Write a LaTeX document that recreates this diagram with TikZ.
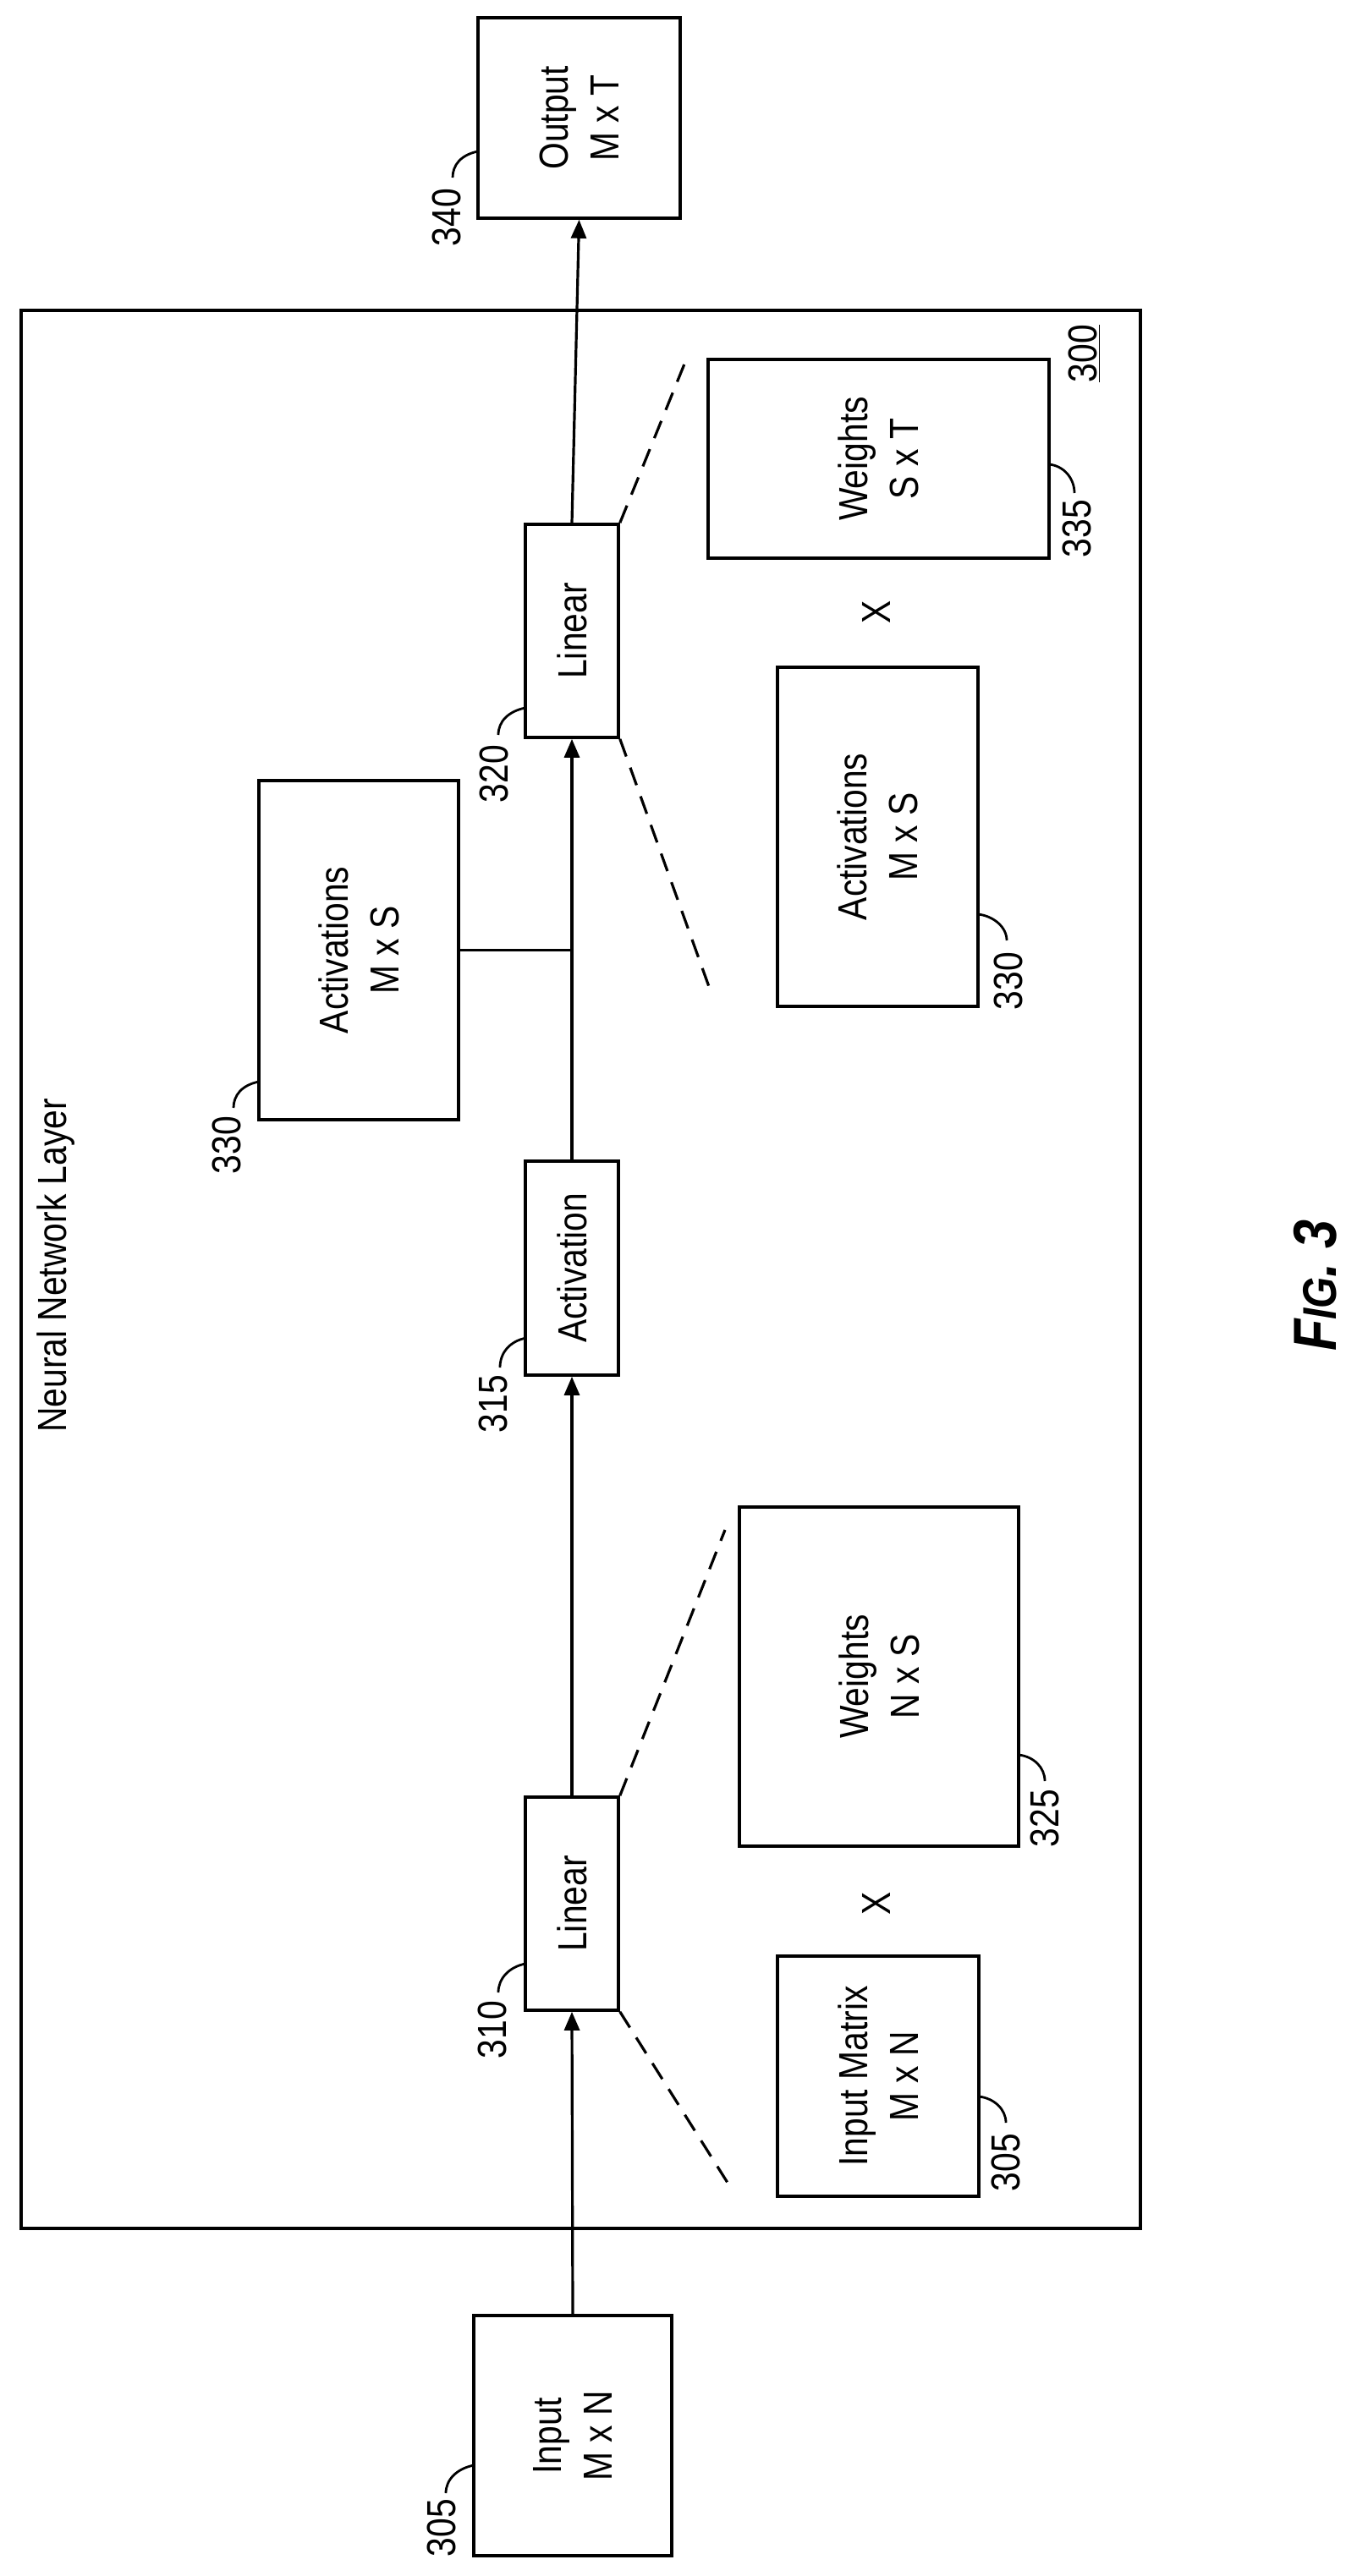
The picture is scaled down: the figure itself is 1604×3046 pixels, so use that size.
\documentclass[tikz,border=0pt]{standalone}
\usepackage{fontspec}
\setmainfont{Liberation Sans}[FakeStretch=0.85]
\usetikzlibrary{arrows.meta}
\begin{document}
\begin{tikzpicture}[x=0.5pt,y=-0.5pt,
  box/.style={draw,line width=1.8pt,inner sep=0pt},
  txt/.style={rotate=90,align=center,font=\fontsize{24}{30}\selectfont,inner sep=0pt},
  lead/.style={line width=1.4pt},
  conn/.style={line width=1.6pt},
  arr/.style={conn,-{Triangle[length=11pt,width=9pt]}},
  dsh/.style={line width=1.6pt,dash pattern=on 11pt off 7pt}]
\useasboundingbox (0,0) rectangle (1604,3046);
% outer layer box
\node[box,minimum width=661.5pt,minimum height=1134pt,anchor=north west] (layer) at (23,365) {};
\node[txt,anchor=west] (nnl) at (66,1694) {Neural Network Layer};
\node[txt] (n300) at (1282,418) {\underline{300}};
% boxes
\node[box,minimum width=119.5pt,minimum height=118.5pt] (out) at (684.5,139.5) {};
\node[txt] at (out) {Output\\M x T};
\node[box,minimum width=117pt,minimum height=142pt] (in) at (677,2880) {};
\node[txt] at (in) {Input\\M x N};
\node[box,minimum width=55pt,minimum height=126pt] (l310) at (676,2251) {};
\node[txt] at (l310) {Linear};
\node[box,minimum width=55pt,minimum height=126.5pt] (a315) at (676,1499.5) {};
\node[txt] at (a315) {Activation};
\node[box,minimum width=55pt,minimum height=126pt] (l320) at (676,746) {};
\node[txt] at (l320) {Linear};
\node[box,minimum width=118pt,minimum height=200.5pt] (actL) at (424,1123.5) {};
\node[txt] at (actL) {Activations\\M x S};
\node[box,minimum width=119pt,minimum height=142pt] (im) at (1038,2455) {};
\node[txt] at (im) {Input Matrix\\M x N};
\node[box,minimum width=165pt,minimum height=200.5pt] (w325) at (1039,1982.5) {};
\node[txt] at (w325) {Weights\\N x S};
\node[box,minimum width=118.5pt,minimum height=200.5pt] (actR) at (1037.5,989.5) {};
\node[txt] at (actR) {Activations\\M x S};
\node[box,minimum width=201.5pt,minimum height=117.5pt] (w335) at (1038.5,542.5) {};
\node[txt] at (w335) {Weights\\S x T};
\node[txt] (x1) at (1036,2251) {X};
\node[txt] (x2) at (1036,724) {X};
% main flow
\draw[arr] (in.north) -- (l310.south);
\draw[arr] (l310.north) -- (a315.south);
\draw[arr] (a315.north) -- (l320.south);
\draw[arr] (l320.north) -- (out.south);
\draw[conn] (actL.east) -- (actL.east -| l320.south);
% dashed expansions
\coordinate (d1) at (812,423);
\coordinate (d2) at (841,1175);
\coordinate (d3) at (857,1809);
\coordinate (d4) at (867,2592);
\draw[dsh] (l320.north east) -- (d1);
\draw[dsh] (l320.south east) -- (d2);
\draw[dsh] (l310.north east) -- (d3);
\draw[dsh] (l310.south east) -- (d4);
% reference labels (left side)
\node[txt] at (528,257) {340};
\draw[lead] (565,179) .. controls (545,183) and (535,195) .. (535,210);
\node[txt] at (584,915) {320};
\draw[lead] (621,837) .. controls (601,841) and (589,853) .. (589,869);
\node[txt] at (268,1354) {330};
\draw[lead] (306,1279) .. controls (286,1283) and (276,1295) .. (276,1310);
\node[txt] at (583,1660) {315};
\draw[lead] (622,1582) .. controls (602,1586) and (591,1600) .. (591,1617);
\node[txt] at (582,2400) {310};
\draw[lead] (621,2322) .. controls (601,2326) and (589,2340) .. (589,2356);
\node[txt] at (522,2989) {305};
\draw[lead] (560,2915) .. controls (540,2919) and (527,2932) .. (527,2948);
% reference labels (right side)
\node[txt] at (1273,625) {335};
\draw[lead] (1240,549) .. controls (1258,551) and (1270,566) .. (1270,583);
\node[txt] at (1192,1160) {330};
\draw[lead] (1156,1081) .. controls (1174,1083) and (1190,1096) .. (1190,1112);
\node[txt] at (1235,2150) {325};
\draw[lead] (1204,2075) .. controls (1222,2077) and (1235,2090) .. (1235,2106);
\node[txt] at (1189,2557) {305};
\draw[lead] (1157,2479) .. controls (1175,2481) and (1189,2494) .. (1189,2510);
% figure caption
\node[rotate=90,font=\bfseries\itshape\fontsize{36}{40}\selectfont,inner sep=0pt] (fig) at (1555,1520) {F{\fontsize{28}{30}\selectfont IG}. 3};
\end{tikzpicture}
\end{document}
